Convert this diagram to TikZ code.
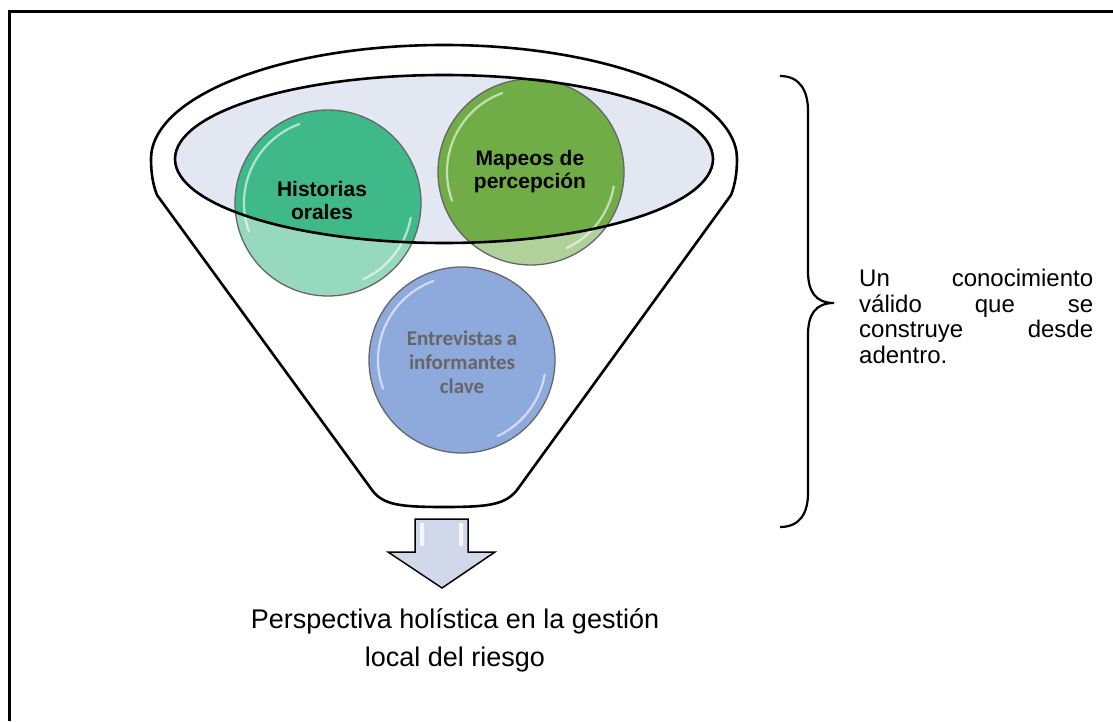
\documentclass[tikz,border=0pt]{standalone}
\usepackage{fontspec}
\setmainfont{Liberation Sans}
\newfontfamily\calibrifont{Carlito}

\definecolor{historia}{RGB}{64,185,138}
\definecolor{mapeo}{RGB}{112,173,71}
\definecolor{entrevista}{RGB}{142,169,219}
\definecolor{boca}{RGB}{227,231,242}
\definecolor{flecha}{RGB}{208,216,234}
\definecolor{grisletra}{RGB}{102,102,102}

\begin{document}
\begin{tikzpicture}[x=1pt,y=1pt,
  bola/.style={circle,minimum size=186pt,inner sep=0pt},
  aro/.style={draw=black!60,line width=1.3pt},
  brillo/.style={white,opacity=.6,line width=2.2pt,line cap=round},
  rotulo/.style={font=\bfseries\fontsize{21}{23}\selectfont,align=center,inner sep=0pt},
  borde/.style={line width=2.6pt,line join=round}]
\useasboundingbox (0,0) rectangle (1113,721);
\draw[line width=3pt] (9,0) -- (9,709) -- (1113,709);

\draw[borde,fill=white] (151,562) arc[start angle=180,end angle=0,x radius=293,y radius=114]
  .. controls (737,548) and (735,536) .. (731,526) -- (517,231)
  .. controls (505,216) and (488,214) .. (444,214)
  .. controls (400,214) and (383,216) .. (372,231) -- (157,526)
  .. controls (153,536) and (151,548) .. cycle;
\fill[boca] (444,562) ellipse[x radius=269,y radius=84];

\node[bola,fill=historia!55!white] (historias) at (328,518) {};
\node[bola,fill=mapeo!55!white] (mapeos) at (531,549) {};
\node[bola,fill=entrevista] (entrevistas) at (462,361) {};
\begin{scope}
\clip (444,562) ellipse[x radius=269,y radius=84];
\fill[historia] (historias.center) circle[radius=93];
\fill[mapeo] (mapeos.center) circle[radius=93];
\end{scope}
\foreach \b in {historias,mapeos,entrevistas}{
  \draw[aro] (\b.center) circle[radius=93];
  \draw[brillo] ([shift={(110:84)}]\b.center) arc[start angle=110,end angle=200,radius=84];
  \draw[brillo] ([shift={(-10:84)}]\b.center) arc[start angle=-10,end angle=-65,radius=84];
}
\draw[borde] (444,562) ellipse[x radius=269,y radius=84];

\node[rotulo] (thistorias) at (322,521) {Historias\\orales};
\node[rotulo] (tmapeos) at (530,549) {Mapeos de\\percepción};
\node[rotulo,font=\calibrifont\bfseries\fontsize{21}{24}\selectfont,text=grisletra] (tentrevistas) at (462,359) {Entrevistas a\\informantes\\clave};

\draw[line width=1.5pt,line join=miter,fill=flecha] (415,202) -- (468,202) -- (468,169) -- (495,169)
  -- (442,133) -- (388,169) -- (415,169) -- cycle;
\fill[white,opacity=.8] (420,198) rectangle (424,175) (459,198) rectangle (463,175);

\draw[line width=2.2pt] (780,645) .. controls (800,645) and (808,630) .. (808,610) -- (808,450)
  .. controls (808,430) and (815,418) .. (834,418) .. controls (815,418) and (808,406) .. (808,386)
  -- (808,228) .. controls (808,208) and (800,194) .. (780,194);

\node[text width=234pt,inner sep=0pt,anchor=north west,font=\fontsize{24}{25.5}\selectfont] (conocimiento) at (859,452)
  {Un\hfill conocimiento\\válido\hfill que\hfill se\\construye\hfill desde\\adentro.};
\node[font=\fontsize{27}{38}\selectfont,align=center] (perspectiva) at (455,81)
  {Perspectiva holística en la gestión\\local del riesgo};
\end{tikzpicture}
\end{document}
